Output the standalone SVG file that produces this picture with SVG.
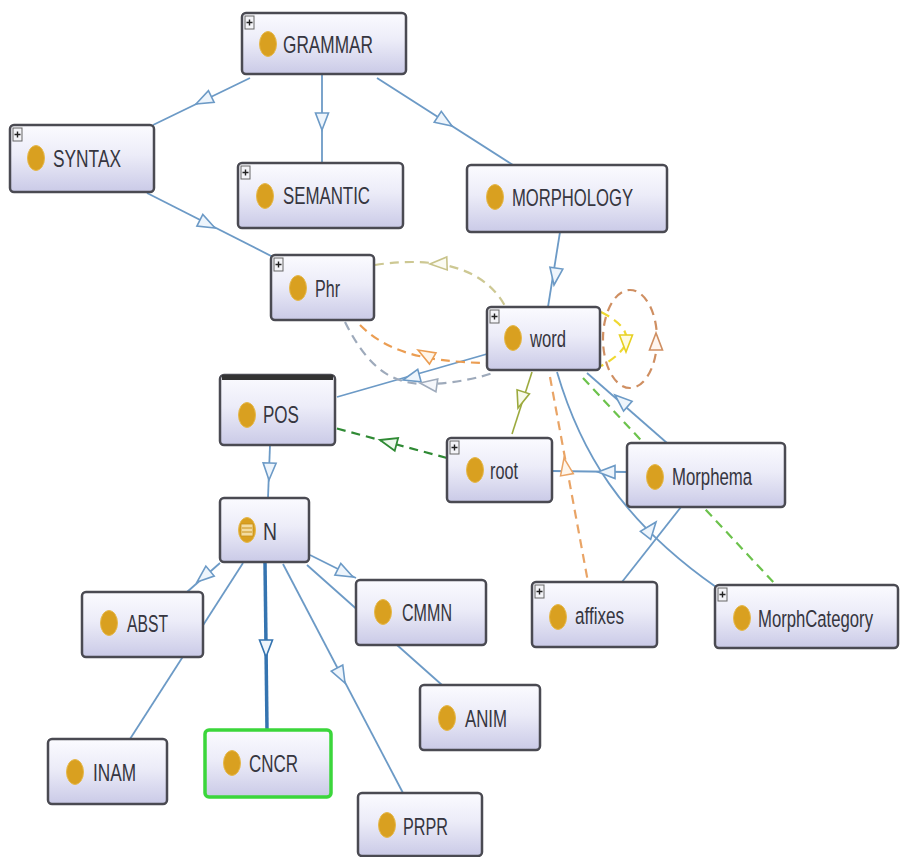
<svg xmlns="http://www.w3.org/2000/svg" xmlns:xlink="http://www.w3.org/1999/xlink" width="902" height="857" viewBox="0 0 902 857">
<defs>
<linearGradient id="nodeFill" x1="0" y1="0" x2="0" y2="1">
<stop offset="0" stop-color="#fbfbff"/>
<stop offset="0.45" stop-color="#ececf8"/>
<stop offset="1" stop-color="#cacae7"/>
</linearGradient>
<path id="ah" d="M0,0 L-17,-6.5 L-17,6.5 Z"/>
<style>
.node rect.box{fill:url(#nodeFill);stroke:#4a4a52;stroke-width:2.5}
.node .dot{fill:#d9a020;stroke:#e6b84a;stroke-width:1}
.node text{font-family:"Liberation Sans",Arial,sans-serif;font-size:17px;fill:#363640}
.plus rect{fill:#f4f4f8;stroke:#666;stroke-width:1}
.plus path{stroke:#222;stroke-width:1.4;fill:none}
.e{fill:none;stroke:#6c9ac6;stroke-width:1.8}
.a{fill:#eef5fc;stroke:#6c9ac6;stroke-width:1.6}
.d{fill:none;stroke-width:2.2;stroke-dasharray:9 6}
</style>
</defs>
<rect width="902" height="857" fill="#ffffff"/>

<g id="connectors">
<path class="e" d="M250,78 L153,125"/>
<path class="e" d="M322,74 L322,163"/>
<path class="e" d="M377,78 L513,165"/>
<path class="e" d="M147,193 L275,258"/>
<path class="e" d="M560,232 L548,307"/>
<path class="e" d="M487,354 L337,397"/>
<path class="e" d="M270,445 L268,498"/>
<path class="e" d="M587,373 L667,443"/>
<path class="e" d="M627,472 L552,471"/>
<path class="e" d="M681,507 L622,582"/>
<path class="e" d="M557,372 C580,450 620,520 716,587"/>
<path class="e" d="M220,563 L187,592"/>
<path class="e" d="M243,563 L130,739"/>
<path class="e" d="M265,562 L267,730" style="stroke:#3574b0;stroke-width:3.5"/>
<path class="e" d="M283,564 L403,793"/>
<path class="e" d="M310,555 L356,578"/>
<path class="e" d="M307,565 L442,685"/>
<path class="d" stroke="#cdc893" d="M375,265 C420,258 480,260 505,306"/>
<path class="d" stroke="#eb9d52" d="M360,325 C385,350 420,362 488,363"/>
<path class="d" stroke="#9eaabb" d="M345,322 C370,372 395,385 430,384 C455,383 480,378 495,372"/>
<ellipse class="d" stroke="#cf8f62" cx="630" cy="339" rx="27" ry="49"/>
<path class="d" stroke="#efd830" d="M601,312 Q652,338 601,366"/>
<path class="d" stroke="#2f8a34" stroke-width="2.6" d="M447,458 L335,428"/>
<path class="e" style="stroke:#9caa3e;stroke-width:1.6" d="M512,434 L532,372"/>
<path class="d" stroke="#e9a466" stroke-width="1.8" d="M550,377 L588,582"/>
<path class="d" stroke="#6cc24c" stroke-width="2.2" d="M583,378 L775,584"/>
<use xlink:href="#ah" class="a" transform="translate(196,104) rotate(154)"/>
<use xlink:href="#ah" class="a" transform="translate(322,130) rotate(90)"/>
<use xlink:href="#ah" class="a" transform="translate(452,126) rotate(33)"/>
<use xlink:href="#ah" class="a" transform="translate(215,228) rotate(27)"/>
<use xlink:href="#ah" class="a" transform="translate(554,285) rotate(98)"/>
<use xlink:href="#ah" class="a" transform="translate(403,380) rotate(165)"/>
<use xlink:href="#ah" class="a" transform="translate(269,480) rotate(92)"/>
<use xlink:href="#ah" class="a" transform="translate(615,395) rotate(221)"/>
<use xlink:href="#ah" class="a" transform="translate(598,472) rotate(180)"/>
<use xlink:href="#ah" class="a" transform="translate(656,522) rotate(-52)"/>
<use xlink:href="#ah" class="a" transform="translate(197,582) rotate(140)"/>
<use xlink:href="#ah" class="a" transform="translate(266,657) rotate(90)" style="stroke:#3574b0"/>
<use xlink:href="#ah" class="a" transform="translate(345,683) rotate(62)"/>
<use xlink:href="#ah" class="a" transform="translate(353,577) rotate(27)"/>
<use xlink:href="#ah" transform="translate(430,264) rotate(178)" fill="#fbfbf2" stroke="#c8c38a" stroke-width="1.6"/>
<use xlink:href="#ah" transform="translate(418,350) rotate(210)" fill="#fff6ea" stroke="#eb9d52" stroke-width="1.6"/>
<use xlink:href="#ah" transform="translate(420,383) rotate(188)" fill="#f5f7fb" stroke="#9eaabb" stroke-width="1.6"/>
<use xlink:href="#ah" transform="translate(656,333) rotate(-90)" fill="#fff6f0" stroke="#cf8f62" stroke-width="1.6"/>
<use xlink:href="#ah" transform="translate(626,352) rotate(90)" fill="#fffbe0" stroke="#e6d020" stroke-width="1.6"/>
<use xlink:href="#ah" transform="translate(380,440) rotate(195)" fill="#eef8ee" stroke="#2f8a34" stroke-width="1.8"/>
<use xlink:href="#ah" transform="translate(518,408) rotate(108)" fill="#f8faea" stroke="#9caa3e" stroke-width="1.6"/>
<use xlink:href="#ah" transform="translate(564,458) rotate(260)" fill="#fff6ec" stroke="#e9a466" stroke-width="1.5"/>
</g>

<g id="node-GRAMMAR" class="node">
<rect class="box" x="242" y="13" width="164" height="61" rx="4"/>
<g class="plus"><rect x="245" y="16" width="9" height="13"/><path d="M246.5,22.5 h6 M249.5,19.5 v6"/></g>
<ellipse class="dot" cx="268" cy="44" rx="8.5" ry="12.5"/>
<text transform="translate(283,53) scale(1,1.45)" textLength="90" lengthAdjust="spacingAndGlyphs">GRAMMAR</text>
</g>
<g id="node-SYNTAX" class="node">
<rect class="box" x="10" y="125" width="144" height="67" rx="4"/>
<g class="plus"><rect x="13" y="128" width="9" height="13"/><path d="M14.5,134.5 h6 M17.5,131.5 v6"/></g>
<ellipse class="dot" cx="36" cy="158" rx="8.5" ry="12.5"/>
<text transform="translate(53,167) scale(1,1.45)" textLength="68" lengthAdjust="spacingAndGlyphs">SYNTAX</text>
</g>
<g id="node-SEMANTIC" class="node">
<rect class="box" x="238" y="163" width="165" height="65" rx="4"/>
<g class="plus"><rect x="241" y="166" width="9" height="13"/><path d="M242.5,172.5 h6 M245.5,169.5 v6"/></g>
<ellipse class="dot" cx="265" cy="196" rx="8.5" ry="12.5"/>
<text transform="translate(283,204) scale(1,1.45)" textLength="87" lengthAdjust="spacingAndGlyphs">SEMANTIC</text>
</g>
<g id="node-MORPHOLOGY" class="node">
<rect class="box" x="467" y="165" width="200" height="67" rx="4"/>
<ellipse class="dot" cx="495" cy="197" rx="8.5" ry="12.5"/>
<text transform="translate(512,206) scale(1,1.45)" textLength="121" lengthAdjust="spacingAndGlyphs">MORPHOLOGY</text>
</g>
<g id="node-Phr" class="node">
<rect class="box" x="271" y="255" width="103" height="65" rx="4"/>
<g class="plus"><rect x="274" y="258" width="9" height="13"/><path d="M275.5,264.5 h6 M278.5,261.5 v6"/></g>
<ellipse class="dot" cx="298" cy="288" rx="8.5" ry="12.5"/>
<text transform="translate(315,297) scale(1,1.45)" textLength="25" lengthAdjust="spacingAndGlyphs">Phr</text>
</g>
<g id="node-word" class="node">
<rect class="box" x="487" y="307" width="113" height="63" rx="4"/>
<g class="plus"><rect x="490" y="310" width="9" height="13"/><path d="M491.5,316.5 h6 M494.5,313.5 v6"/></g>
<ellipse class="dot" cx="513" cy="338" rx="8.5" ry="12.5"/>
<text transform="translate(530,347) scale(1,1.45)" textLength="36" lengthAdjust="spacingAndGlyphs">word</text>
</g>
<g id="node-POS" class="node">
<rect class="box" x="220" y="375" width="115" height="70" rx="4"/>
<path d="M222,377.5 H333" stroke="#333" stroke-width="5"/>
<ellipse class="dot" cx="247" cy="415" rx="8.5" ry="12.5"/>
<text transform="translate(263,423) scale(1,1.45)" textLength="36" lengthAdjust="spacingAndGlyphs">POS</text>
</g>
<g id="node-root" class="node">
<rect class="box" x="447" y="438" width="105" height="64" rx="4"/>
<g class="plus"><rect x="450" y="441" width="9" height="13"/><path d="M451.5,447.5 h6 M454.5,444.5 v6"/></g>
<ellipse class="dot" cx="475" cy="470" rx="8.5" ry="12.5"/>
<text transform="translate(490,479) scale(1,1.45)" textLength="28" lengthAdjust="spacingAndGlyphs">root</text>
</g>
<g id="node-Morphema" class="node">
<rect class="box" x="627" y="443" width="158" height="64" rx="4"/>
<ellipse class="dot" cx="655" cy="477" rx="8.5" ry="12.5"/>
<text transform="translate(672,485) scale(1,1.45)" textLength="80" lengthAdjust="spacingAndGlyphs">Morphema</text>
</g>
<g id="node-affixes" class="node">
<rect class="box" x="532" y="582" width="125" height="65" rx="4"/>
<g class="plus"><rect x="535" y="585" width="9" height="13"/><path d="M536.5,591.5 h6 M539.5,588.5 v6"/></g>
<ellipse class="dot" cx="558" cy="617" rx="8.5" ry="12.5"/>
<text transform="translate(575,624) scale(1,1.45)" textLength="49" lengthAdjust="spacingAndGlyphs">affixes</text>
</g>
<g id="node-MorphCategory" class="node">
<rect class="box" x="715" y="585" width="183" height="63" rx="4"/>
<g class="plus"><rect x="718" y="588" width="9" height="13"/><path d="M719.5,594.5 h6 M722.5,591.5 v6"/></g>
<ellipse class="dot" cx="742" cy="618" rx="8.5" ry="12.5"/>
<text transform="translate(758,627) scale(1,1.45)" textLength="115" lengthAdjust="spacingAndGlyphs">MorphCategory</text>
</g>
<g id="node-N" class="node">
<rect class="box" x="220" y="498" width="89" height="64" rx="4"/>
<ellipse class="dot" cx="247" cy="530" rx="8.5" ry="12.5"/>
<rect x="241" y="524" width="12" height="12" fill="#f3dca0" stroke="#c89018" stroke-width="0.8"/>
<path d="M242,528 h10 M242,532 h10" stroke="#c89018" stroke-width="1"/>
<text transform="translate(263,540) scale(1,1.45)" textLength="14" lengthAdjust="spacingAndGlyphs">N</text>
</g>
<g id="node-ABST" class="node">
<rect class="box" x="82" y="592" width="121" height="65" rx="4"/>
<ellipse class="dot" cx="109" cy="623" rx="8.5" ry="12.5"/>
<text transform="translate(127,632) scale(1,1.45)" textLength="41" lengthAdjust="spacingAndGlyphs">ABST</text>
</g>
<g id="node-CMMN" class="node">
<rect class="box" x="356" y="580" width="130" height="65" rx="4"/>
<ellipse class="dot" cx="383" cy="612" rx="8.5" ry="12.5"/>
<text transform="translate(402,621) scale(1,1.45)" textLength="50" lengthAdjust="spacingAndGlyphs">CMMN</text>
</g>
<g id="node-INAM" class="node">
<rect class="box" x="48" y="739" width="119" height="65" rx="4"/>
<ellipse class="dot" cx="75" cy="772" rx="8.5" ry="12.5"/>
<text transform="translate(93,781) scale(1,1.45)" textLength="43" lengthAdjust="spacingAndGlyphs">INAM</text>
</g>
<g id="node-CNCR" class="node">
<rect class="box" x="205" y="730" width="126" height="67" rx="4" style="stroke:#3bd63b;stroke-width:3.5"/>
<ellipse class="dot" cx="232" cy="763" rx="8.5" ry="12.5"/>
<text transform="translate(249,772) scale(1,1.45)" textLength="49" lengthAdjust="spacingAndGlyphs">CNCR</text>
</g>
<g id="node-ANIM" class="node">
<rect class="box" x="420" y="685" width="120" height="65" rx="4"/>
<ellipse class="dot" cx="447" cy="718" rx="8.5" ry="12.5"/>
<text transform="translate(465,727) scale(1,1.45)" textLength="42" lengthAdjust="spacingAndGlyphs">ANIM</text>
</g>
<g id="node-PRPR" class="node">
<rect class="box" x="358" y="793" width="124" height="63" rx="4"/>
<ellipse class="dot" cx="387" cy="825" rx="8.5" ry="12.5"/>
<text transform="translate(403,835) scale(1,1.45)" textLength="45" lengthAdjust="spacingAndGlyphs">PRPR</text>
</g>
</svg>
